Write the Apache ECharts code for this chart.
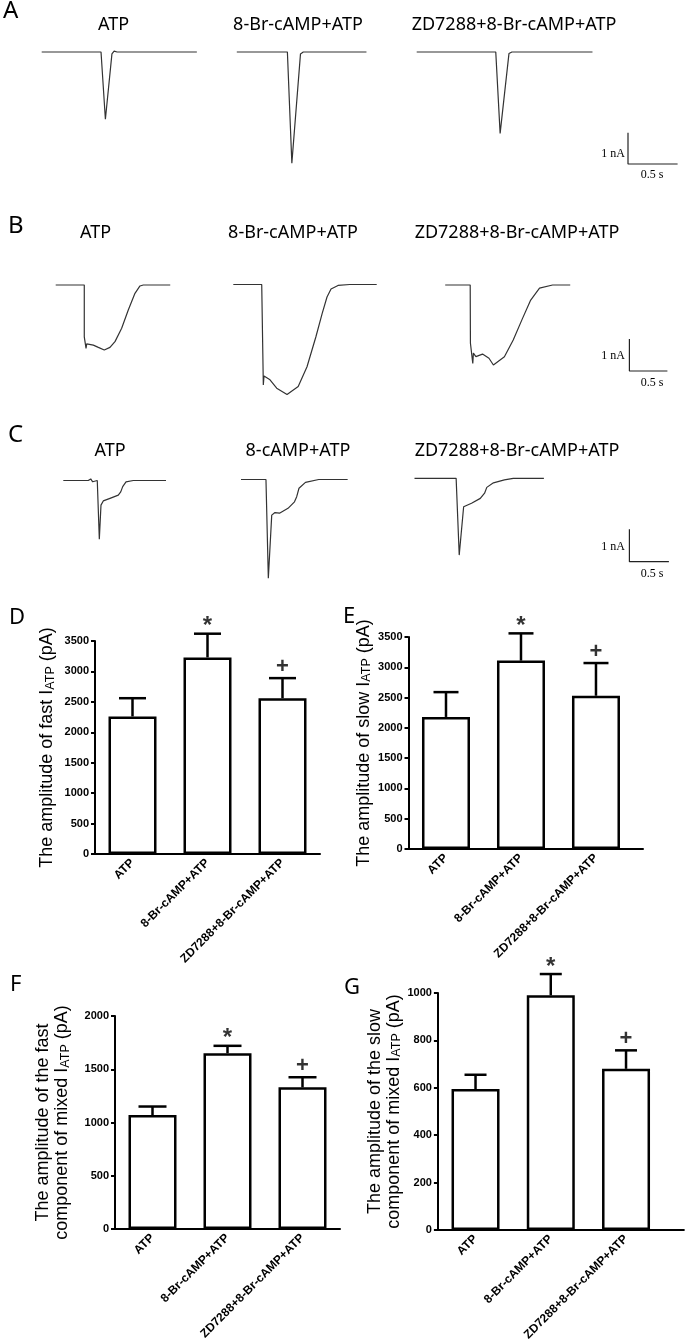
<!DOCTYPE html>
<html>
<head>
<meta charset="utf-8">
<script src="https://cdn.jsdelivr.net/npm/echarts@6/dist/echarts.min.js"></script>
<style>
html, body { margin: 0; padding: 0; background: #fff; }
#chart { width: 685px; height: 1340px; }
</style>
</head>
<body>
<div id="chart"></div>
<script>
// current traces, [time (s), current (nA)]
var traceA1 = [[0,0],[0.598,0],[0.642,-2.15],[0.708,-0.06],[0.73,0.03],[0.76,0],[1.564,0]];
var traceA2 = [[0,0],[0.510,0],[0.555,-3.55],[0.642,-0.06],[0.67,0],[1.307,0]];
var traceA3 = [[0,0],[0.797,0],[0.841,-2.60],[0.930,-0.05],[0.96,0],[1.772,0]];

var traceB1 = [[0,0],[0.376,0],[0.376,-1.62],[0.389,-1.62],[0.399,-1.98],[0.408,-1.84],[0.429,-1.84],[0.495,-1.88],[0.561,-1.95],[0.639,-2.03],[0.714,-1.95],[0.780,-1.77],[0.868,-1.35],[0.955,-0.78],[1.043,-0.26],[1.109,-0.03],[1.153,0],[1.507,0]];
var traceB2 = [[0,0],[0.374,0],[0.395,-3.14],[0.404,-2.86],[0.417,-2.86],[0.483,-2.98],[0.571,-3.24],[0.707,-3.44],[0.854,-3.19],[0.970,-2.57],[1.086,-1.64],[1.168,-0.92],[1.233,-0.39],[1.286,-0.14],[1.378,-0.03],[1.533,0],[1.887,0]];
var traceB3 = [[0,0],[0.329,0],[0.332,-1.82],[0.363,-2.45],[0.371,-2.13],[0.404,-2.24],[0.491,-2.16],[0.576,-2.29],[0.634,-2.50],[0.779,-2.24],[0.895,-1.72],[1.009,-1.09],[1.125,-0.47],[1.241,-0.10],[1.413,0],[1.645,0]];

var traceC1 = [[0,0],[0.316,0],[0.347,0.05],[0.372,-0.04],[0.392,0.02],[0.430,0],[0.456,-1.81],[0.477,-0.76],[0.506,-0.63],[0.591,-0.55],[0.696,-0.45],[0.727,-0.35],[0.752,-0.19],[0.794,-0.04],[0.886,0],[1.300,0]];
var traceC2 = [[0,0],[0.316,0],[0.346,-3.05],[0.389,-1.10],[0.430,-1.02],[0.487,-1.04],[0.595,-0.89],[0.677,-0.69],[0.705,-0.53],[0.734,-0.27],[0.816,-0.09],[0.984,0],[1.350,0]];
var traceC3 = [[0,0],[0.527,0],[0.566,-2.37],[0.622,-0.88],[0.722,-0.77],[0.833,-0.62],[0.887,-0.46],[0.915,-0.28],[0.999,-0.14],[1.138,-0.05],[1.25,0],[1.638,0]];

// scale bar: 1 nA up, 0.5 s across
var scaleBar = [[0,1],[0,0],[0.5,0]];

var traceTitles = ['ATP', '8-Br-cAMP+ATP', 'ZD7288+8-Br-cAMP+ATP'];
var traceTitlesC = ['ATP', '8-cAMP+ATP', 'ZD7288+8-Br-cAMP+ATP'];

// bar charts
var groups = ['ATP', '8-Br-cAMP+ATP', 'ZD7288+8-Br-cAMP+ATP'];
var marks = ['', '*', '+'];
var fastMean = [2260, 3230, 2560];
var fastSem = [300, 390, 330];
var slowMean = [2180, 3110, 2530];
var slowSem = [410, 450, 540];
var mixFastMean = [1070, 1650, 1330];
var mixFastSem = [80, 70, 95];
var mixSlowMean = [595, 990, 680];
var mixSlowSem = [60, 90, 78];

var grids = [], xAxes = [], yAxes = [], series = [], graphics = [];
var traceColor = '#333';

function hiddenAxis(i, min, max) {
	return {gridIndex: i, type: 'value', show: false, min: min, max: max};
}

function addGrid(g) {
	g.outerBoundsMode = 'none';
	g.containLabel = false;
	grids.push(g);
	return grids.length - 1;
}

// trace rows
var traceRows = [
	{base: [52, 52, 52], lefts: [41.7, 236.8, 416.7], pxS: 99.2, pxNA: 31.3, data: [traceA1, traceA2, traceA3], bar: [628, 164]},
	{base: [285, 284.5, 285], lefts: [55.7, 233.3, 445.2], pxS: 76, pxNA: 32, data: [traceB1, traceB2, traceB3], bar: [629.4, 371]},
	{base: [480.5, 479.5, 478.3], lefts: [63.3, 241, 414.5], pxS: 79, pxNA: 32.4, data: [traceC1, traceC2, traceC3], bar: [629.4, 561.7]}
];
var yTop = 0.3, yBot = -3.7;

traceRows.forEach(function(r) {
	r.data.forEach(function(d, k) {
		var tMax = d[d.length - 1][0];
		var i = addGrid({left: r.lefts[k], top: r.base[k] - yTop * r.pxNA, width: tMax * r.pxS, height: (yTop - yBot) * r.pxNA});
		xAxes.push(hiddenAxis(i, 0, tMax));
		yAxes.push(hiddenAxis(i, yBot, yTop));
		series.push({type: 'line', xAxisIndex: i, yAxisIndex: i, data: d, symbol: 'none', clip: false,
			lineStyle: {color: traceColor, width: 1.2}});
	});
	var j = addGrid({left: r.bar[0], top: r.bar[1] - r.pxNA, width: 0.5 * r.pxS, height: r.pxNA});
	xAxes.push(hiddenAxis(j, 0, 0.5));
	yAxes.push(hiddenAxis(j, 0, 1));
	series.push({type: 'line', xAxisIndex: j, yAxisIndex: j, data: scaleBar, symbol: 'none', clip: false,
		lineStyle: {color: '#222', width: 1.2}});
});

function txt(x, y, s, size, family, align, weight) {
	graphics.push({type: 'text', x: x, y: y, silent: true, style: {
		text: s, fontSize: size, fontFamily: family, fontWeight: weight || 'normal', fill: '#000',
		align: align || 'center', textAlign: align || 'center', verticalAlign: 'middle', textVerticalAlign: 'middle'}});
}

var sans = 'Noto Sans';
var serif = 'Liberation Serif';
txt(3, 11, 'A', 24, sans, 'left');
txt(8, 226, 'B', 24, sans, 'left');
txt(8, 435, 'C', 24, sans, 'left');
[[113.6, 298, 514], [95.6, 293, 517], [110, 298, 517]].forEach(function(xs, r) {
	var ys = [24.5, 233, 451][r];
	var titles = r == 2 ? traceTitlesC : traceTitles;
	xs.forEach(function(x, k) { txt(x, ys, titles[k], 18, sans); });
});
[[154, 175], [356, 382.7], [546.7, 574]].forEach(function(p) {
	txt(625, p[0], '1 nA', 12, serif, 'right');
	txt(652, p[1], '0.5 s', 12, serif);
});
txt(9, 618, 'D', 22, sans, 'left');
txt(343, 617, 'E', 22, sans, 'left');
txt(10, 985, 'F', 22, sans, 'left');
txt(344, 988, 'G', 22, sans, 'left');

// bar panels
var black = '#000';
var arial = 'Liberation Sans';
function errorBar(half) {
	return function(params, api) {
		var x = api.value(0), m = api.value(1), t = api.value(2);
		var p0 = api.coord([x, m]), p1 = api.coord([x, t]);
		return {type: 'group', children: [
			{type: 'line', shape: {x1: p0[0], y1: p0[1], x2: p1[0], y2: p1[1]}, style: {stroke: black, lineWidth: 2.5}},
			{type: 'line', shape: {x1: p1[0] - half, y1: p1[1], x2: p1[0] + half, y2: p1[1]}, style: {stroke: black, lineWidth: 2.5}}
		]};
	};
}

function barPanel(p) {
	var i = addGrid({left: p.left, top: p.top, width: p.width, height: p.height});
	xAxes.push({gridIndex: i, type: 'value', min: -0.5, max: p.xMax,
		axisLine: {show: true, onZero: false, lineStyle: {color: black, width: 2}},
		axisTick: {show: false}, splitLine: {show: false},
		axisLabel: {customValues: [0, 1, 2], rotate: 45, margin: 7, color: black, fontFamily: arial, fontWeight: 'bold', fontSize: 12,
			formatter: function(v) { return groups[Math.round(v)] || ''; }}});
	yAxes.push({gridIndex: i, type: 'value', min: 0, max: p.yMax, interval: p.step,
		name: p.title, nameLocation: 'middle', nameRotate: 90, nameGap: p.gap,
		nameTextStyle: {fontFamily: arial, fontSize: 18, color: black, lineHeight: 19,
			rich: {sub: {fontFamily: arial, fontSize: 12.5, color: black, lineHeight: 8, verticalAlign: 'bottom'}}},
		axisLine: {show: true, onZero: false, lineStyle: {color: black, width: 2}},
		axisTick: {show: true, length: 4, lineStyle: {color: black, width: 2}},
		splitLine: {show: false},
		axisLabel: {margin: 6, color: black, fontFamily: arial, fontWeight: 'bold', fontSize: 11,
			formatter: function(v) { return String(v); }}});
	var bars = [], errs = [], sig = [];
	p.mean.forEach(function(m, k) {
		bars.push([k, m]);
		errs.push([k, m, m + p.sem[k]]);
		if (marks[k]) {
			var star = marks[k] == '*';
			sig.push({value: [k, m + p.sem[k]], name: marks[k],
				label: {distance: star ? -5 : 0.5, fontSize: star ? 24 : 22, lineHeight: star ? 24 : 22}});
		}
	});
	series.push({type: 'bar', xAxisIndex: i, yAxisIndex: i, data: bars, barWidth: 48,
		itemStyle: {color: '#fff', borderColor: black, borderWidth: 2.5}});
	series.push({type: 'custom', xAxisIndex: i, yAxisIndex: i, data: errs, renderItem: errorBar(p.cap), z: 3, clip: false});
	series.push({type: 'scatter', xAxisIndex: i, yAxisIndex: i, data: sig, symbolSize: 0, clip: false,
		labelLayout: {hideOverlap: false},
		label: {show: true, position: 'top', formatter: '{b}', color: black, fontFamily: arial, fontWeight: 'bold'}});
}

barPanel({left: 95, top: 641, width: 225, height: 213, xMax: 2.5, yMax: 3500, step: 500, gap: 38, cap: 13.5,
	title: 'The amplitude of fast I{sub|ATP} (pA)', mean: fastMean, sem: fastSem});
barPanel({left: 408.5, top: 637, width: 234.5, height: 212, xMax: 2.627, yMax: 3500, step: 500, gap: 35, cap: 12.5,
	title: 'The amplitude of slow I{sub|ATP} (pA)', mean: slowMean, sem: slowSem});
barPanel({left: 115, top: 1016, width: 225, height: 213, xMax: 2.5, yMax: 2000, step: 500, gap: 43, cap: 14,
	title: 'The amplitude of the fast\ncomponent of mixed I{sub|ATP} (pA)', mean: mixFastMean, sem: mixFastSem});
barPanel({left: 437.9, top: 993, width: 246, height: 237, xMax: 2.769, yMax: 1000, step: 200, gap: 32, cap: 11,
	title: 'The amplitude of the slow\ncomponent of mixed I{sub|ATP} (pA)', mean: mixSlowMean, sem: mixSlowSem});

var myChart = echarts.init(document.getElementById('chart'), null, {renderer: 'canvas'});
myChart.setOption({
	animation: false,
	backgroundColor: '#fff',
	grid: grids,
	xAxis: xAxes,
	yAxis: yAxes,
	series: series,
	graphic: graphics
});
</script>
</body>
</html>
